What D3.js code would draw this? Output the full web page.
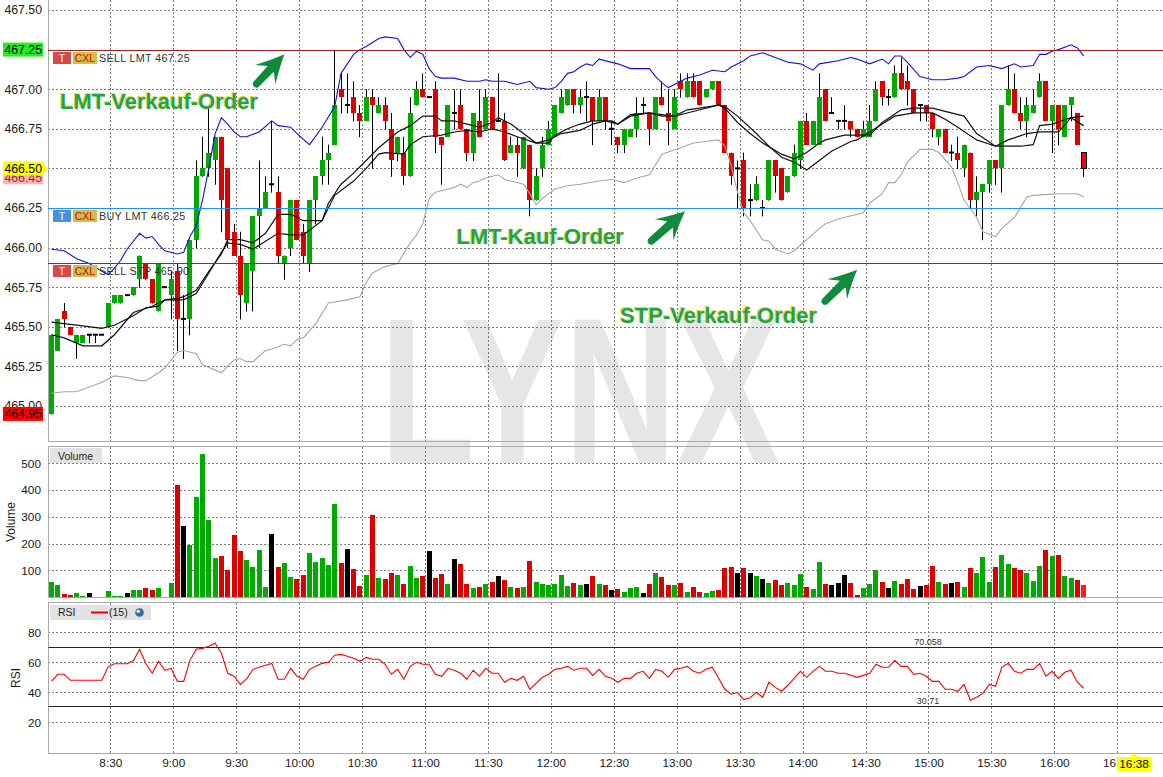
<!DOCTYPE html>
<html><head><meta charset="utf-8">
<script src="https://cdn.jsdelivr.net/npm/d3@7/dist/d3.min.js"></script>
<style>
html,body{margin:0;padding:0;background:#fff;}
svg{display:block;font-family:"Liberation Sans",Arial,Helvetica,sans-serif;}
</style></head><body>
<svg id="chart" width="1163" height="777"></svg>
<script>
// ---------------- DATA ----------------
const sessionStart = "8:00";
const barMinutes = 3;
const open = [
464.95,465.35,465.60,465.50,465.40,465.40,465.45,465.45,465.45,465.50,
465.65,465.65,465.70,465.70,465.80,465.90,465.80,465.60,465.75,465.70,
465.85,465.55,465.55,466.05,466.45,466.50,466.55,466.70,466.50,466.10,
465.95,465.65,465.85,466.20,466.25,466.40,466.35,465.90,466.00,466.30,
466.10,465.90,466.30,466.45,466.55,466.65,467.00,466.90,466.95,466.85,
466.80,466.95,466.85,466.90,466.75,466.60,466.60,466.45,466.90,467.00,
466.95,467.00,466.70,466.70,466.85,466.90,466.75,466.60,466.80,466.75,
466.95,466.80,466.80,466.60,466.65,466.50,466.65,466.30,466.50,466.65,
466.70,466.85,466.90,467.00,466.90,466.95,466.95,466.80,466.95,466.75,
466.70,466.65,466.70,466.75,466.90,466.85,466.75,466.95,466.85,466.75,
467.05,466.95,467.05,467.05,466.95,467.00,467.05,466.90,466.60,466.50,
466.55,466.30,466.30,466.25,466.30,466.55,466.50,466.35,466.45,466.55,
466.80,466.65,466.65,467.00,466.85,466.80,466.80,466.80,466.75,466.70,
466.70,466.80,467.05,466.95,466.95,467.10,467.05,467.00,466.90,466.90,
466.85,466.70,466.75,466.60,466.60,466.50,466.60,466.30,466.35,466.40,
466.55,466.50,466.90,467.00,466.85,466.80,466.85,466.95,467.05,466.80,
466.90,466.70,466.90,466.85,466.60];
const high = [
465.45,465.55,465.65,465.50,465.45,465.45,465.45,465.45,465.45,465.65,
465.70,465.70,465.70,465.75,465.95,465.90,465.80,465.90,465.75,465.85,
465.90,465.70,466.05,466.55,466.70,466.90,466.70,466.70,466.50,466.15,
466.10,465.90,466.20,466.55,466.45,466.80,466.45,465.95,466.30,466.30,
466.15,466.30,466.45,466.70,466.65,467.25,467.10,467.10,467.05,466.90,
467.00,467.00,466.95,466.95,466.85,466.70,466.70,466.95,467.05,467.10,
466.95,467.05,466.70,466.90,467.00,467.00,466.75,466.85,467.00,467.00,
466.95,467.10,466.85,466.70,466.70,466.70,466.65,466.50,466.70,466.80,
466.90,467.00,467.00,467.00,467.00,467.05,466.95,467.00,466.95,466.80,
466.70,466.75,466.75,466.95,466.95,466.85,466.95,467.05,467.00,467.00,
467.10,467.10,467.10,467.05,467.00,467.05,467.05,466.90,466.60,466.55,
466.60,466.40,466.45,466.30,466.55,466.55,466.50,466.45,466.65,466.80,
466.85,466.80,467.10,467.00,466.95,466.80,466.90,466.80,466.75,466.80,
466.90,467.05,467.05,467.00,467.15,467.20,467.15,467.00,466.90,466.90,
466.85,466.75,466.75,466.65,466.70,466.65,466.60,466.45,466.40,466.55,
466.55,466.90,467.15,467.10,466.95,466.95,467.00,467.10,467.05,466.90,
466.90,466.90,466.95,466.85,466.60];
const low = [
464.95,465.35,465.50,465.45,465.30,465.40,465.40,465.40,465.45,465.50,
465.65,465.65,465.70,465.70,465.75,465.80,465.65,465.60,465.75,465.55,
465.35,465.30,465.45,466.00,466.45,466.45,466.40,466.10,466.00,465.95,
465.55,465.60,465.60,466.00,466.25,466.35,465.90,465.80,465.95,466.05,
465.90,465.85,466.15,466.40,466.40,466.65,466.85,466.85,466.80,466.70,
466.80,466.50,466.85,466.75,466.45,466.55,466.40,466.45,466.90,466.95,
466.95,466.60,466.40,466.70,466.75,466.75,466.55,466.55,466.70,466.75,
466.75,466.80,466.55,466.60,466.45,466.50,466.20,466.30,466.45,466.65,
466.70,466.85,466.90,466.85,466.85,466.80,466.65,466.80,466.75,466.65,
466.60,466.60,466.70,466.70,466.85,466.65,466.75,466.90,466.65,466.75,
466.95,466.95,466.95,466.90,466.95,467.00,466.90,466.60,466.40,466.25,
466.20,466.20,466.30,466.20,466.30,466.35,466.30,466.35,466.45,466.50,
466.65,466.65,466.65,466.80,466.85,466.75,466.75,466.70,466.70,466.70,
466.70,466.80,466.90,466.90,466.95,467.00,466.90,466.85,466.80,466.80,
466.70,466.65,466.60,466.55,466.50,466.45,466.25,466.20,466.05,466.35,
466.40,466.35,466.90,466.85,466.75,466.70,466.85,466.95,466.80,466.60,
466.65,466.70,466.80,466.65,466.45];
const close = [
465.45,465.55,465.55,465.45,465.45,465.45,465.45,465.45,465.45,465.65,
465.70,465.70,465.70,465.75,465.95,465.80,465.65,465.90,465.75,465.80,
465.55,465.55,466.05,466.45,466.50,466.60,466.70,466.30,466.05,465.95,
465.70,465.90,466.20,466.25,466.35,466.40,465.95,465.95,466.30,466.05,
465.95,466.30,466.45,466.55,466.60,466.90,466.95,466.90,466.85,466.80,
466.95,466.90,466.90,466.80,466.55,466.70,466.45,466.85,467.00,466.95,
466.95,466.70,466.65,466.90,466.85,466.75,466.60,466.85,466.70,466.95,
466.75,466.80,466.55,466.65,466.60,466.70,466.30,466.45,466.65,466.75,
466.90,466.95,467.00,466.90,466.95,466.95,466.80,466.95,466.80,466.75,
466.65,466.75,466.75,466.85,466.90,466.75,466.95,466.90,466.80,466.95,
467.00,467.05,466.95,466.90,467.00,467.05,466.90,466.60,466.45,466.50,
466.25,466.30,466.40,466.25,466.55,466.45,466.30,466.45,466.60,466.80,
466.65,466.80,466.95,466.80,466.85,466.80,466.80,466.75,466.70,466.75,
466.80,467.00,466.95,466.95,467.10,467.00,467.00,466.85,466.90,466.85,
466.75,466.75,466.60,466.60,466.55,466.65,466.30,466.35,466.40,466.55,
466.50,466.90,467.00,466.85,466.80,466.90,466.90,467.05,466.80,466.90,
466.75,466.90,466.95,466.65,466.50];
const volume = [
56,43,11,7,15,4,15,0,0,22,
4,4,15,26,26,34,26,34,0,52,
417,265,194,373,533,287,145,153,101,231,
171,138,112,175,37,235,112,127,75,67,
82,164,130,145,119,347,127,179,104,41,
82,305,71,67,89,82,48,116,71,78,
171,71,86,48,142,123,48,34,37,48,
56,78,63,37,34,37,134,56,48,45,
48,82,41,52,45,48,78,48,44,25,
29,18,33,36,14,48,89,74,44,44,
51,18,36,18,14,21,25,108,111,89,
108,89,78,66,51,63,44,51,44,85,
36,29,130,48,44,51,81,51,6,33,
48,100,55,33,59,48,66,29,40,44,
115,55,48,51,55,36,108,89,149,55,
111,156,123,108,100,89,59,115,175,153,
156,78,70,63,44];
const rsi = [
47.5,52,52,48,48,48,48,48,48,57,
59,59,59,61,68.7,59,52.7,60.7,54.7,56,
47.3,47.3,61.3,68.7,69.3,70.7,72.7,66,52.7,50.7,
45.3,49,55.3,56.7,58,59.3,48.7,48.7,56,50.7,
48.7,55.3,57.3,59.3,60,64.7,65.3,64,62.7,60.7,
63.3,62,62,58.7,52,55.3,48.7,57.3,60,58.7,
58.7,52,50.7,56,54.7,52.7,48.7,54.7,50.7,56,
52.7,52.7,46.7,49.3,48,50.7,42,46,50,52,
55.3,56,57.3,54.7,56,56,51.3,55.3,50.7,49.3,
46.7,49.3,49.3,52.7,54,49.3,55.3,54,50,55.3,
56,57.3,54,52.7,55.3,56.7,49.3,42,38.7,40,
35.1,36.4,40,36.7,46.7,43.3,40.7,44.7,49.3,54,
50,54,57.3,54,54,52.7,52.7,51.3,50,51.3,
52.7,58.7,56.7,56.7,61.3,57.3,57.3,52,52.7,50.7,
47.3,47.3,42,42,40.7,45.3,34.7,36.7,39.3,45.3,
44,56.7,59.3,54,52.7,55.3,55.3,59.3,50.7,54,
49.3,53.3,54.7,46.7,42.7];
// indicator lines: [bar index, value]
const bbUpper = [[0,465.99],[2,465.98],[4,465.93],[6,465.90],[8,465.85],[9,465.83],[10,465.87],[11,465.92],[12,465.99],[13,466.04],[14,466.09],[15,466.06],[16,466.07],[17,466.02],[18,465.98],[20,465.96],[21,465.97],[22,466.07],[23,466.14],[24,466.30],[25,466.50],[26,466.72],[27,466.82],[28,466.78],[29,466.73],[30,466.70],[31,466.70],[33,466.73],[35,466.80],[36,466.77],[38,466.76],[39,466.72],[41,466.65],[43,466.76],[45,466.89],[46,467.10],[48,467.22],[49,467.25],[50,467.27],[52,467.32],[53,467.33],[55,467.32],[56,467.25],[57,467.20],[58,467.24],[59,467.22],[60,467.13],[61,467.08],[62,467.07],[64,467.07],[66,467.05],[68,467.05],[69,467.06],[70,467.05],[72,467.05],[74,467.03],[76,467.05],[77,467.01],[79,467.00],[80,467.01],[81,467.05],[82,467.10],[83,467.11],[84,467.14],[85,467.16],[86,467.15],[87,467.19],[90,467.16],[92,467.13],[95,467.13],[96,467.08],[97,467.04],[98,467.01],[99,467.03],[101,467.07],[103,467.09],[105,467.12],[107,467.11],[108,467.14],[110,467.18],[111,467.21],[113,467.23],[115,467.20],[117,467.17],[119,467.16],[121,467.12],[122,467.16],[125,467.18],[127,467.20],[128,467.19],[130,467.16],[132,467.19],[133,467.16],[134,467.21],[135,467.21],[136,467.17],[138,467.08],[140,467.06],[142,467.06],[144,467.07],[145,467.08],[147,467.14],[149,467.15],[151,467.13],[153,467.16],[154,467.14],[156,467.15],[157,467.22],[158,467.22],[159,467.24],[160,467.25],[162,467.28],[163,467.26],[164,467.21]];
const bbLower = [[0,465.08],[2,465.09],[4,465.09],[6,465.12],[8,465.15],[10,465.19],[12,465.18],[14,465.16],[15,465.16],[17,465.21],[18,465.24],[20,465.34],[21,465.35],[23,465.33],[24,465.26],[27,465.21],[29,465.29],[30,465.30],[31,465.28],[32,465.28],[34,465.35],[35,465.36],[37,465.39],[38,465.38],[39,465.42],[40,465.43],[42,465.52],[44,465.65],[47,465.67],[49,465.69],[50,465.78],[51,465.84],[53,465.88],[55,465.90],[57,466.03],[58,466.08],[59,466.15],[60,466.31],[61,466.35],[63,466.37],[64,466.38],[65,466.40],[66,466.38],[67,466.41],[68,466.42],[69,466.44],[71,466.46],[72,466.43],[73,466.42],[75,466.40],[76,466.34],[77,466.27],[78,466.31],[80,466.37],[82,466.39],[84,466.40],[87,466.42],[89,466.43],[91,466.41],[93,466.44],[95,466.46],[97,466.59],[100,466.63],[102,466.66],[104,466.67],[106,466.68],[107,466.64],[108,466.52],[109,466.35],[110,466.22],[111,466.17],[113,466.05],[114,466.04],[115,465.99],[117,465.96],[118,465.98],[120,466.05],[122,466.12],[123,466.15],[125,466.18],[129,466.22],[130,466.28],[132,466.34],[133,466.41],[134,466.41],[135,466.46],[136,466.54],[138,466.62],[140,466.62],[141,466.60],[143,466.51],[144,466.41],[145,466.30],[147,466.19],[148,466.10],[150,466.07],[151,466.12],[153,466.19],[155,466.32],[156,466.33],[160,466.34],[163,466.34],[164,466.32]];
const maFast = [[0,465.53],[4,465.51],[8,465.49],[10,465.51],[13,465.57],[15,465.62],[17,465.63],[18,465.67],[20,465.68],[21,465.69],[23,465.73],[25,465.85],[27,465.96],[28,466.05],[30,466.05],[32,466.03],[34,466.09],[36,466.21],[38,466.21],[40,466.17],[43,466.17],[44,466.28],[46,466.40],[48,466.47],[50,466.55],[52,466.63],[55,466.73],[57,466.77],[59,466.83],[61,466.83],[62,466.80],[64,466.80],[67,466.77],[68,466.76],[70,466.79],[71,466.82],[73,466.78],[75,466.72],[77,466.66],[79,466.66],[80,466.71],[82,466.75],[84,466.78],[86,466.80],[89,466.80],[90,466.78],[92,466.83],[95,466.85],[97,466.84],[99,466.83],[101,466.87],[103,466.88],[106,466.90],[107,466.88],[109,466.79],[111,466.72],[113,466.66],[116,466.59],[118,466.56],[120,466.60],[122,466.66],[123,466.68],[126,466.71],[128,466.71],[130,466.71],[132,466.79],[135,466.87],[137,466.88],[140,466.88],[142,466.86],[145,466.83],[147,466.72],[150,466.64],[154,466.64],[156,466.65],[157,466.77],[159,466.78],[162,466.82],[164,466.83]];
const maSlow = [[0,465.45],[2,465.43],[5,465.38],[8,465.38],[10,465.45],[13,465.59],[16,465.63],[18,465.67],[20,465.67],[21,465.67],[23,465.71],[25,465.84],[27,465.97],[28,466.03],[30,466.02],[32,465.99],[34,466.04],[36,466.09],[38,466.08],[40,466.08],[43,466.17],[45,466.33],[48,466.42],[50,466.50],[52,466.59],[53,466.60],[56,466.59],[57,466.65],[59,466.70],[62,466.71],[64,466.73],[66,466.74],[68,466.73],[70,466.75],[72,466.73],[74,466.70],[77,466.66],[79,466.68],[81,466.72],[84,466.74],[86,466.78],[88,466.80],[90,466.78],[92,466.84],[95,466.85],[97,466.83],[99,466.83],[101,466.85],[104,466.88],[106,466.90],[107,466.89],[109,466.83],[112,466.72],[114,466.64],[116,466.57],[118,466.54],[120,466.49],[122,466.55],[124,466.61],[127,466.67],[128,466.68],[130,466.73],[132,466.78],[134,466.83],[137,466.85],[140,466.85],[142,466.81],[144,466.76],[147,466.68],[150,466.64],[152,466.68],[155,466.72],[157,466.73],[160,466.73],[162,466.82],[164,466.77]];

const priceTicks = [465.00,465.25,465.50,465.75,466.00,466.25,466.50,466.75,467.00,467.25,467.50];
const volumeTicks = [100,200,300,400,500];
const rsiTicks = [20,40,60,80];
const timeTicks = ["8:30","9:00","9:30","10:00","10:30","11:00","11:30","12:00","12:30","13:00","13:30","14:00","14:30","15:00","15:30","16:00","16:30"];
const rsiLevels = [70.058, 30.71];
const rsiLevelLabels = ["70.058", "30.71"];
const orderTypes = ["SELL LMT", "BUY LMT", "SELL STP"];
const orderPrices = [467.25, 466.25, 465.90];
const flagPrices = [467.25, 466.45, 466.50, 464.95];
const annotTexts = ["LMT-Verkauf-Order", "LMT-Kauf-Order", "STP-Verkauf-Order"];
const annotTextTimes = ["8:06", "11:15", "12:33"];
const annotTextPrices = [466.875, 466.02, 465.525];
const arrowTailTimes = ["9:38", "12:46", "14:09"];
const arrowTailPrices = [467.01, 466.02, 465.64];
const arrowTipTimes = ["9:53", "13:04", "14:26"];
const arrowTipPrices = [467.22, 466.23, 465.86];
const currentTime = "16:38";
const watermark = "LYNX";

// ---------------- LAYOUT / SCALES ----------------
const svg = d3.select("#chart");
const L = 48, R = 1163;
const P = {top: 0, bottom: 441.5}, V = {top: 446, bottom: 597}, RP = {top: 602.5, bottom: 753};
const parseT = d3.timeParse("%H:%M");
const t0 = parseT(sessionStart);
const barTimes = open.map((_, i) => d3.timeMinute.offset(t0, i * barMinutes));
const x = d3.scaleTime().domain([parseT("8:00"), parseT("16:30")]).range([47.4, 1117.3]);
const BAR_SHIFT = 4.1;
const cx = i => x(barTimes[i]) + BAR_SHIFT;
const yP = d3.scaleLinear().domain([465, 467.5]).range([406, 10]);
const yV = d3.scaleLinear().domain([0, 500]).range([597, 463.25]);
const yR = d3.scaleLinear().domain([20, 80]).range([722.3, 632.3]);

const defs = svg.append("defs");
function clip(id, t, b) {
  defs.append("clipPath").attr("id", id).append("rect")
    .attr("x", L + 0.5).attr("y", t).attr("width", R - L).attr("height", b - t);
}
clip("cp", P.top, P.bottom); clip("cv", V.top, V.bottom); clip("cr", RP.top, RP.bottom);

svg.append("rect").attr("width", 1163).attr("height", 777).attr("fill", "#fff");

// watermark
svg.append("text").attr("x", 380).attr("y", 463)
  .attr("font-size", 207).attr("font-weight", "bold").attr("fill", "#e6e6e6")
  .attr("textLength", 400).attr("lengthAdjust", "spacingAndGlyphs").text(watermark);

// grids
function styleGrid(g) {
  g.select(".domain").remove();
  g.selectAll("line").attr("stroke", "#7a7a7a").attr("stroke-dasharray", "2,2")
    .attr("shape-rendering", "crispEdges");
  g.selectAll("text").remove();
}
const timeDates = timeTicks.map(parseT);
[[P, "cp"], [V, "cv"], [RP, "cr"]].forEach(([pn]) => {
  svg.append("g").attr("transform", `translate(0,${pn.bottom})`)
    .call(d3.axisBottom(x).tickValues(timeDates).tickSize(-(pn.bottom - pn.top)).tickFormat(""))
    .call(styleGrid);
});
svg.append("g").attr("transform", `translate(${L},0)`)
  .call(d3.axisLeft(yP).tickValues(priceTicks).tickSize(-(R - L)).tickFormat("")).call(styleGrid);
svg.append("g").attr("transform", `translate(${L},0)`)
  .call(d3.axisLeft(yV).tickValues(volumeTicks).tickSize(-(R - L)).tickFormat("")).call(styleGrid);
svg.append("g").attr("transform", `translate(${L},0)`)
  .call(d3.axisLeft(yR).tickValues(rsiTicks).tickSize(-(R - L)).tickFormat("")).call(styleGrid);

// panel frames
const frame = svg.append("g").attr("stroke", "#a9a9a9").attr("shape-rendering", "crispEdges");
[P.bottom, V.top, V.bottom, RP.top, RP.bottom].forEach(yy =>
  frame.append("line").attr("x1", L).attr("x2", R).attr("y1", yy).attr("y2", yy));
[[P.top, P.bottom], [V.top, V.bottom], [RP.top, RP.bottom]].forEach(([a, b]) =>
  frame.append("line").attr("x1", L + 0.5).attr("x2", L + 0.5).attr("y1", a).attr("y2", b));

// tick labels
function styleLabels(size) {
  return g => {
    g.select(".domain").remove();
    g.selectAll("line").remove();
    g.selectAll("text").attr("fill", "#1a1a1a").attr("font-size", size)
      .attr("font-family", '"Liberation Sans",Arial,sans-serif');
  };
}
svg.append("g").attr("transform", `translate(${L},0)`)
  .call(d3.axisLeft(yP).tickValues(priceTicks).tickFormat(d3.format(".2f")).tickSize(0).tickPadding(6))
  .call(styleLabels(12.3));
svg.append("g").attr("transform", `translate(${L},0)`)
  .call(d3.axisLeft(yV).tickValues(volumeTicks).tickFormat(d3.format("d")).tickSize(0).tickPadding(7))
  .call(styleLabels(11.8));
svg.append("g").attr("transform", `translate(${L},0)`)
  .call(d3.axisLeft(yR).tickValues(rsiTicks).tickFormat(d3.format("d")).tickSize(0).tickPadding(7))
  .call(styleLabels(11.8));
svg.append("g").attr("transform", `translate(0,${RP.bottom})`)
  .call(d3.axisBottom(x).tickValues(timeDates).tickFormat(d3.timeFormat("%-H:%M")).tickSize(0).tickPadding(6))
  .call(styleLabels(11.8));

// axis titles
svg.append("text").attr("transform", "translate(14.5,522) rotate(-90)").attr("text-anchor", "middle")
  .attr("font-size", 12).attr("fill", "#1a1a1a").text("Volume");
svg.append("text").attr("transform", "translate(19.5,678) rotate(-90)").attr("text-anchor", "middle")
  .attr("font-size", 12).attr("fill", "#1a1a1a").text("RSI");

// ---------------- PRICE PANEL ----------------
const bars = d3.range(open.length).map(i => ({i, o: open[i], h: high[i], l: low[i], c: close[i], v: volume[i]}));
const last = bars.length - 1;
const UP = "#00aa00", DN = "#dd0000";
const gP = svg.append("g").attr("clip-path", "url(#cp)");
const bx = d => Math.round(cx(d.i) - 2.5);
gP.selectAll(".wick").data(bars).join("line")
  .attr("x1", d => bx(d) + 2.5).attr("x2", d => bx(d) + 2.5)
  .attr("y1", d => yP(d.h)).attr("y2", d => yP(d.l) + 0.5)
  .attr("stroke", "#000").attr("stroke-width", 1);
gP.selectAll(".body").data(bars.filter(d => d.o !== d.c)).join("rect")
  .attr("x", d => bx(d)).attr("width", 5)
  .attr("y", d => yP(Math.max(d.o, d.c)))
  .attr("height", d => Math.max(1, yP(Math.min(d.o, d.c)) - yP(Math.max(d.o, d.c))))
  .attr("fill", d => d.i === last ? "#ff0000" : (d.c > d.o ? UP : DN))
  .attr("stroke", d => d.i === last ? "#000" : "none").attr("stroke-width", 1)
  .attr("shape-rendering", "crispEdges");
gP.selectAll(".doji").data(bars.filter(d => d.o === d.c)).join("rect")
  .attr("x", d => bx(d)).attr("width", 5)
  .attr("y", d => yP(d.o) - 1).attr("height", 2).attr("fill", "#000");

const lineGen = d3.line().x(d => cx(d[0])).y(d => yP(d[1]));
gP.append("path").attr("d", lineGen(bbLower)).attr("fill", "none").attr("stroke", "#a6a6a6").attr("stroke-width", 1.1);
gP.append("path").attr("d", lineGen(bbUpper)).attr("fill", "none").attr("stroke", "#1010dd").attr("stroke-width", 1.1);
gP.append("path").attr("d", lineGen(maSlow)).attr("fill", "none").attr("stroke", "#111").attr("stroke-width", 1.2);
gP.append("path").attr("d", lineGen(maFast)).attr("fill", "none").attr("stroke", "#111").attr("stroke-width", 1.2);

// order lines + labels
const orderLineColors = ["#a52222", "#1e90ff", "#a52222"];
const tBoxColors = ["#d94848", "#4a90d9", "#d94848"];
orderPrices.forEach((p, k) => {
  const yy = Math.round(yP(p)) + 0.5;
  svg.append("line").attr("x1", L).attr("x2", R).attr("y1", yy).attr("y2", yy)
    .attr("stroke", orderLineColors[k]).attr("stroke-width", 1.2);
  const g = svg.append("g").attr("transform", `translate(0,${yy})`);
  g.append("rect").attr("x", 53).attr("y", 1.5).attr("width", 18).attr("height", 12).attr("fill", tBoxColors[k]);
  g.append("text").attr("x", 62).attr("y", 11.3).attr("text-anchor", "middle").attr("font-size", 10.5)
    .attr("fill", "#fff").text("T");
  g.append("rect").attr("x", 73).attr("y", 1.5).attr("width", 24).attr("height", 12).attr("fill", "#c9c24b");
  g.append("text").attr("x", 85).attr("y", 11.3).attr("text-anchor", "middle").attr("font-size", 10.5)
    .attr("fill", "#e00000").text("CXL");
  g.append("text").attr("x", 99).attr("y", 11.3).attr("font-size", 10.8).attr("fill", "#333")
    .attr("letter-spacing", 0.3).text(`${orderTypes[k]} ${d3.format(".2f")(p)}`);
});

// annotations
const annGreen = "#22a34a";
annotTexts.forEach((t, k) => {
  const ax = x(parseT(annotTextTimes[k])), ay = yP(annotTextPrices[k]);
  svg.append("text").attr("x", ax - 1).attr("y", ay - 0.7).attr("font-size", 22).attr("font-weight", "bold")
    .attr("fill", "#e2d83a").text(t);
  svg.append("text").attr("x", ax).attr("y", ay).attr("font-size", 22).attr("font-weight", "bold")
    .attr("fill", annGreen).text(t);
});
arrowTipTimes.forEach((tt, k) => {
  const hx = x(parseT(tt)), hy = yP(arrowTipPrices[k]);
  const tx = x(parseT(arrowTailTimes[k])), ty = yP(arrowTailPrices[k]);
  const ang = Math.atan2(hy - ty, hx - tx) * 180 / Math.PI;
  const len = Math.hypot(hx - tx, hy - ty);
  svg.append("path")
    .attr("transform", `translate(${hx},${hy}) rotate(${ang})`)
    .attr("d", `M0,0 Q-12,-5 -28,-14 L-20,-4.2 L${-len + 4},-3.6 A3.8,3.8 0 0 0 ${-len + 4},3.6 L-20,4.2 L-28,14 Q-12,5 0,0 Z`)
    .attr("fill", "#128a3c");
});

// price flags on axis
const flagColors = ["#22ee22", "#ffb3b3", "#ffff00", "#ff0000"];
const flagText = ["#000", "#7a3a3a", "#000", "#000"];
flagPrices.forEach((p, k) => {
  const yy = yP(p) + (k === 1 ? 1 : 0);
  const g = svg.append("g");
  g.append("rect").attr("x", 3).attr("y", yy - 7).attr("width", 40).attr("height", 14).attr("fill", flagColors[k]);
  if (k === 2) g.append("path").attr("d", `M43,${yy - 5} L48,${yy} L43,${yy + 5} Z`).attr("fill", flagColors[k]);
  g.append("text").attr("x", 42).attr("y", yy + 4.5).attr("text-anchor", "end").attr("font-size", 12.3)
    .attr("fill", flagText[k]).text(d3.format(".2f")(p));
});

// ---------------- VOLUME PANEL ----------------
const gV = svg.append("g").attr("clip-path", "url(#cv)");
gV.selectAll("rect").data(bars.filter(d => d.v > 0)).join("rect")
  .attr("x", d => bx(d)).attr("width", 5)
  .attr("y", d => yV(d.v)).attr("height", d => yV(0) - yV(d.v))
  .attr("fill", d => d.i === last ? "#ff1a1a" : (d.c > d.o ? UP : d.c < d.o ? DN : "#000"))
  .attr("shape-rendering", "crispEdges");
svg.append("rect").attr("x", 50).attr("y", 448).attr("width", 52).attr("height", 15).attr("fill", "#e2e2e2");
svg.append("text").attr("x", 58).attr("y", 459.5).attr("font-size", 10.5).attr("fill", "#222").text("Volume");

// ---------------- RSI PANEL ----------------
const gR = svg.append("g").attr("clip-path", "url(#cr)");
rsiLevels.forEach((lv, k) => {
  const yy = Math.round(yR(lv)) + 0.5;
  gR.append("line").attr("x1", L).attr("x2", R).attr("y1", yy).attr("y2", yy).attr("stroke", "#222").attr("stroke-width", 1);
  gR.append("text").attr("x", 928).attr("y", yy - 3).attr("text-anchor", "middle").attr("font-size", 9)
    .attr("fill", "#333").text(rsiLevelLabels[k]);
});
gR.append("path").attr("d", d3.line().x((d, i) => cx(i)).y(d => yR(d))(rsi))
  .attr("fill", "none").attr("stroke", "#ff0000").attr("stroke-width", 1.1);
svg.append("rect").attr("x", 50).attr("y", 605).attr("width", 101).attr("height", 15).attr("fill", "#e2e2e2");
svg.append("text").attr("x", 58).attr("y", 616).attr("font-size", 10.5).attr("fill", "#222").text("RSI");
svg.append("line").attr("x1", 91).attr("x2", 108).attr("y1", 612.5).attr("y2", 612.5).attr("stroke", "#ee0000").attr("stroke-width", 2);
svg.append("text").attr("x", 109).attr("y", 616).attr("font-size", 10.5).attr("fill", "#222").text("(15)");
svg.append("circle").attr("cx", 139.5).attr("cy", 612.5).attr("r", 4.3).attr("fill", "#3a6aa0");
svg.append("circle").attr("cx", 138.3).attr("cy", 611.3).attr("r", 1.8).attr("fill", "#d8e8f8");

// current time flag
const ctx = x(parseT(currentTime));
svg.append("rect").attr("x", ctx - 17).attr("y", 757).attr("width", 34).attr("height", 14).attr("fill", "#ffff00");
svg.append("path").attr("d", `M${ctx - 4},757 L${ctx},753 L${ctx + 4},757 Z`).attr("fill", "#ffff00");
svg.append("text").attr("x", ctx).attr("y", 768).attr("text-anchor", "middle").attr("font-size", 11.8)
  .attr("fill", "#000").text(currentTime);
</script></body></html>
